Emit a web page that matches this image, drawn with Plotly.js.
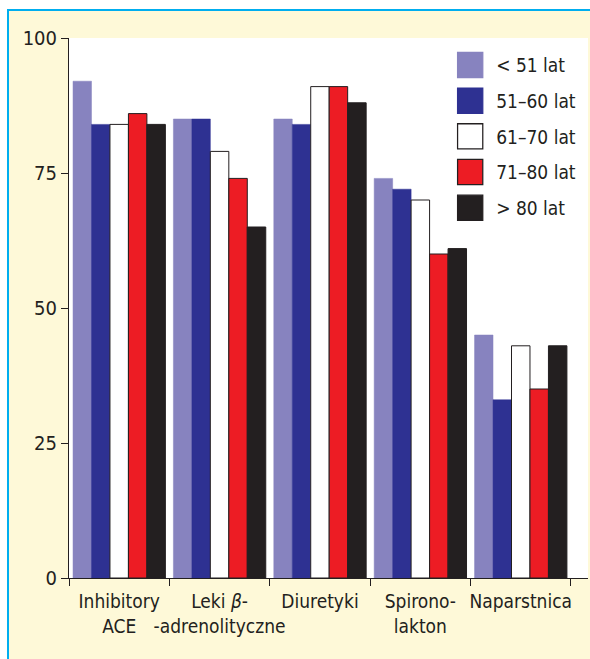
<!DOCTYPE html>
<html>
<head>
<meta charset="utf-8">
<script src="https://cdn.plot.ly/plotly-3.0.1.min.js"></script>
<style>
  html, body { margin: 0; padding: 0; background: #ffffff; width: 590px; height: 659px; overflow: hidden; }
  #frame { position: absolute; left: 7px; top: 9px; width: 600px; height: 700px;
           border-left: 2px solid #00aeef; border-top: 2px solid #00aeef; background: #fef9d8; }
  #chart { position: absolute; left: 0; top: 0; width: 590px; height: 659px; }
  #chart text { font-stretch: condensed; }
</style>
</head>
<body>
<div id="frame"></div>
<div id="chart"></div>
<script>
const categories = ["Inhibitory<br>ACE", "Leki <i>β</i>-<br>-adrenolityczne", "Diuretyki", "Spirono-<br>lakton", "Naparstnica"];
const seriesNames = ["< 51 lat", "51–60 lat", "61–70 lat", "71–80 lat", "> 80 lat"];
const under51 = [92, 85, 85, 74, 45];
const age51_60 = [84, 85, 84, 72, 33];
const age61_70 = [84, 79, 91, 70, 43];
const age71_80 = [86, 74, 91, 60, 35];
const over80 = [84, 65, 88, 61, 43];
const yTicks = [0, 25, 50, 75, 100];

const seriesValues = [under51, age51_60, age61_70, age71_80, over80];
const fills = ["#8783bf", "#2e3192", "#ffffff", "#ed1c24", "#231f20"];
const outlines = ["#8783bf", "#2e3192", "#231f20", "#231f20", "#231f20"];

const FONT = "'DejaVu Sans Condensed', 'DejaVu Sans', sans-serif";

const traces = seriesValues.map((vals, i) => ({
  type: "bar",
  name: seriesNames[i],
  x: categories,
  y: vals,
  legendgroup: "g" + i,
  marker: { color: fills[i], line: { color: outlines[i], width: i >= 2 ? 1 : 0.5 } },
  hoverinfo: "skip"
}));

const layout = {
  width: 590, height: 659,
  paper_bgcolor: "rgba(0,0,0,0)",
  plot_bgcolor: "#ffffff",
  margin: { l: 69, r: 2, t: 38, b: 81, pad: 0 },
  barmode: "group",
  bargap: 0.08,
  bargroupgap: 0,
  font: { family: FONT, size: 19, color: "#231f20" },
  showlegend: true,
  legend: {
    x: 0.746, y: 0.985, xanchor: "left", yanchor: "top",
    bgcolor: "rgba(0,0,0,0)", borderwidth: 0,
    font: { family: FONT, size: 19, color: "#231f20" },
    tracegroupgap: 8,
    traceorder: "grouped"
  },
  xaxis: {
    type: "category",
    range: [-0.5, 4.67],
    tickangle: 0,
    showline: true, linecolor: "#231f20", linewidth: 1,
    ticks: "outside", tickson: "boundaries", ticklen: 7, tickcolor: "#231f20", tickwidth: 1,
    ticklabelstandoff: 6,
    showgrid: false, zeroline: false,
    tickfont: { family: FONT, size: 19, color: "#231f20" },
    fixedrange: true
  },
  yaxis: {
    range: [0, 100],
    tickvals: yTicks,
    ticktext: yTicks.map(String),
    showline: true, linecolor: "#231f20", linewidth: 1,
    ticks: "outside", ticklen: 7, tickcolor: "#231f20", tickwidth: 1,
    showgrid: false, zeroline: false,
    tickfont: { family: FONT, size: 20, color: "#231f20" },
    fixedrange: true
  }
};

function enlargeLegendSymbols() {
  document.querySelectorAll("#chart .legend .legendpoints path").forEach(el => {
    const base = el.getAttribute("data-basetf");
    const cur = base !== null ? base : (el.getAttribute("transform") || "");
    el.setAttribute("data-basetf", cur);
    el.setAttribute("transform", cur + " translate(-6,0) scale(2.1)");
    el.style.strokeWidth = "0.6px";
  });
}

Plotly.newPlot("chart", traces, layout, { displayModeBar: false, staticPlot: true }).then(enlargeLegendSymbols);
</script>
</body>
</html>
